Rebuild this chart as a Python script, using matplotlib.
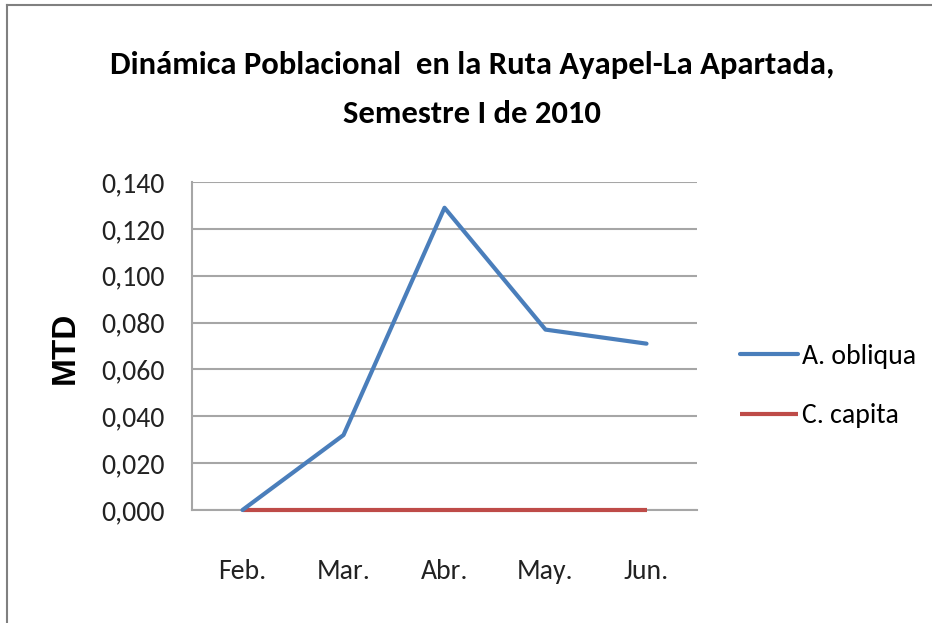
import matplotlib
matplotlib.use("Agg")
import matplotlib.pyplot as plt
from matplotlib.lines import Line2D
from matplotlib import font_manager

months = ["Feb.", "Mar.", "Abr.", "May.", "Jun."]
a_obliqua = [0.000, 0.032, 0.129, 0.077, 0.071]
c_capita = [0.000, 0.000, 0.000, 0.000, 0.000]
yticks = [0.000, 0.020, 0.040, 0.060, 0.080, 0.100, 0.120, 0.140]
ytick_labels = ["0,000", "0,020", "0,040", "0,060", "0,080", "0,100", "0,120", "0,140"]

names = {f.name for f in font_manager.fontManager.ttflist}
fam = "Carlito" if "Carlito" in names else "Open Sans"

W, H = 932, 623
fig = plt.figure(figsize=(W / 100, H / 100), dpi=100)
ax = fig.add_axes([192 / W, 1 - 510 / H, (697 - 192) / W, (510 - 182) / H])

x = list(range(len(months)))
ax.plot(x, a_obliqua, color="#4A7EBB", lw=3, label="A. obliqua", solid_capstyle="round", zorder=4, clip_on=False)
ax.plot(x, c_capita, color="#BE4B48", lw=3, label="C. capita", solid_capstyle="butt", zorder=3, clip_on=False)

fs_tick = 20
fs_title = 23.5

ax.set_xlim(-0.5, len(months) - 0.5)
ax.set_ylim(0, 0.140)
ax.set_yticks(yticks)
ax.set_yticklabels(ytick_labels, family=fam, fontsize=fs_tick, color="#222222")
ax.set_xticks(x)
ax.set_xticklabels(months, family=fam, fontsize=fs_tick, color="#222222")
ax.tick_params(axis="y", length=0, pad=19.5)
ax.tick_params(axis="x", length=0, pad=35)
ax.grid(axis="y", color="#A6A6A6", lw=1.5)
ax.set_axisbelow(True)
for s in ["top", "right"]:
    ax.spines[s].set_visible(False)
ax.spines["left"].set_color("#A6A6A6")
ax.spines["left"].set_linewidth(1.5)
ax.spines["bottom"].set_color("#A6A6A6")
ax.spines["bottom"].set_linewidth(1.5)

fig.text(65 / W, 1 - 348 / H, "MTD", rotation=90, ha="center", va="center",
         fontsize=24, fontweight="bold", family="Liberation Sans")

fig.text(472 / W, 1 - 65 / H, "Dinámica Poblacional  en la Ruta Ayapel-La Apartada,",
         ha="center", va="center", fontsize=fs_title, family=fam, fontweight="bold")
fig.text(472 / W, 1 - 114 / H, "Semestre I de 2010",
         ha="center", va="center", fontsize=fs_title, family=fam, fontweight="bold")

leg = fig.legend(loc="center left", bbox_to_anchor=(715 / W, 1 - 386 / H), frameon=False,
                 prop={"family": fam, "size": fs_tick}, handlelength=2.1, labelspacing=1.25,
                 handletextpad=0.15)

fig.add_artist(Line2D([7 / W, 7 / W], [0, 1 - 5 / H], transform=fig.transFigure, color="#808080", lw=1.5))
fig.add_artist(Line2D([7 / W, 1], [1 - 5 / H, 1 - 5 / H], transform=fig.transFigure, color="#808080", lw=1.5))

fig.savefig("out.png", dpi=100)
